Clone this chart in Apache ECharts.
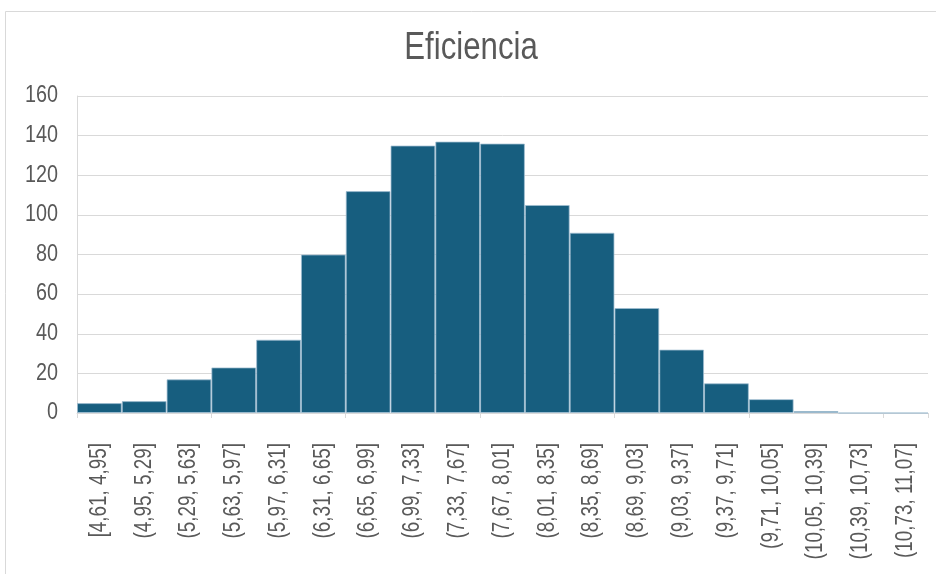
<!DOCTYPE html>
<html>
<head>
<meta charset="utf-8">
<script src="https://cdn.jsdelivr.net/npm/echarts@6/dist/echarts.min.js"></script>
<style>
  html, body { margin: 0; padding: 0; background: #ffffff; }
  #chart { width: 936px; height: 574px; }
</style>
</head>
<body>
<div id="chart"></div>
<script>
// Bin labels of the histogram (comma as decimal separator)
const binLabels = [
  '[4,61, 4,95]', '(4,95, 5,29]', '(5,29, 5,63]', '(5,63, 5,97]', '(5,97, 6,31]',
  '(6,31, 6,65]', '(6,65, 6,99]', '(6,99, 7,33]', '(7,33, 7,67]', '(7,67, 8,01]',
  '(8,01, 8,35]', '(8,35, 8,69]', '(8,69, 9,03]', '(9,03, 9,37]', '(9,37, 9,71]',
  '(9,71, 10,05]', '(10,05, 10,39]', '(10,39, 10,73]', '(10,73, 11,07]'
];
// Frequency per bin
const binCounts = [5, 6, 17, 23, 37, 80, 112, 135, 137, 136, 105, 91, 53, 32, 15, 7, 1, 0, 0];
// Value axis range and its tick labels
const yMin = 0, yMax = 160, yStep = 20;
const yTicks = [0, 20, 40, 60, 80, 100, 120, 140, 160];
const chartTitle = 'Eficiencia';

const font = '"Liberation Sans", Arial, sans-serif';
const textColor = '#595959';
const lineColor = '#d9d9d9';
// horizontal squeeze that gives the narrow typeface look
const narrow = 0.8;

const chart = echarts.init(document.getElementById('chart'), null, { renderer: 'canvas' });
chart.setOption({
  animation: false,
  backgroundColor: '#ffffff',
  grid: { left: 77, right: 8, top: 96, bottom: 161, containLabel: false },
  xAxis: {
    type: 'category',
    data: binLabels,
    boundaryGap: true,
    axisLine: { show: true, lineStyle: { color: lineColor, width: 1 } },
    axisTick: { show: true, length: 5, lineStyle: { color: lineColor } },
    axisLabel: { show: false }
  },
  yAxis: {
    type: 'value',
    min: yMin,
    max: yMax,
    interval: yStep,
    axisLine: { show: true, lineStyle: { color: lineColor } },
    axisTick: { show: false },
    splitLine: { show: true, lineStyle: { color: lineColor, width: 1 } },
    axisLabel: { show: false }
  },
  series: [{
    type: 'bar',
    data: binCounts,
    barCategoryGap: '0%',
    barGap: '0%',
    itemStyle: {
      color: '#175e7f',
      borderColor: 'rgba(160,190,210,0.75)',
      borderWidth: 1
    }
  }]
});

// Text drawn as graphic elements so it can be condensed horizontally;
// positions come from the chart's own axis scales.
const texts = [];
texts.push({
  type: 'rect',
  shape: { x: 5.5, y: 11.5, width: 960, height: 600 },
  style: { fill: 'none', stroke: lineColor, lineWidth: 1 },
  silent: true, z: -1
});
texts.push({
  type: 'text',
  x: 471, y: 48,
  scaleX: narrow,
  style: {
    text: chartTitle, fontFamily: font, fontSize: 39, fill: textColor,
    align: 'center', verticalAlign: 'middle'
  }
});
yTicks.forEach(v => {
  const p = chart.convertToPixel({ gridIndex: 0 }, [0, v]);
  texts.push({
    type: 'text',
    x: 58, y: p[1],
    scaleX: 0.86,
    style: {
      text: String(v), fontFamily: font, fontSize: 23, fill: textColor,
      align: 'right', verticalAlign: 'middle'
    }
  });
});
binLabels.forEach((lab, i) => {
  const p = chart.convertToPixel({ gridIndex: 0 }, [i, 0]);
  texts.push({
    type: 'text',
    x: p[0], y: p[1] + 30,
    rotation: Math.PI / 2,
    scaleX: 0.82,
    style: {
      text: lab, fontFamily: font, fontSize: 23, fill: textColor,
      align: 'right', verticalAlign: 'middle'
    }
  });
});
chart.setOption({ graphic: texts });
</script>
</body>
</html>
